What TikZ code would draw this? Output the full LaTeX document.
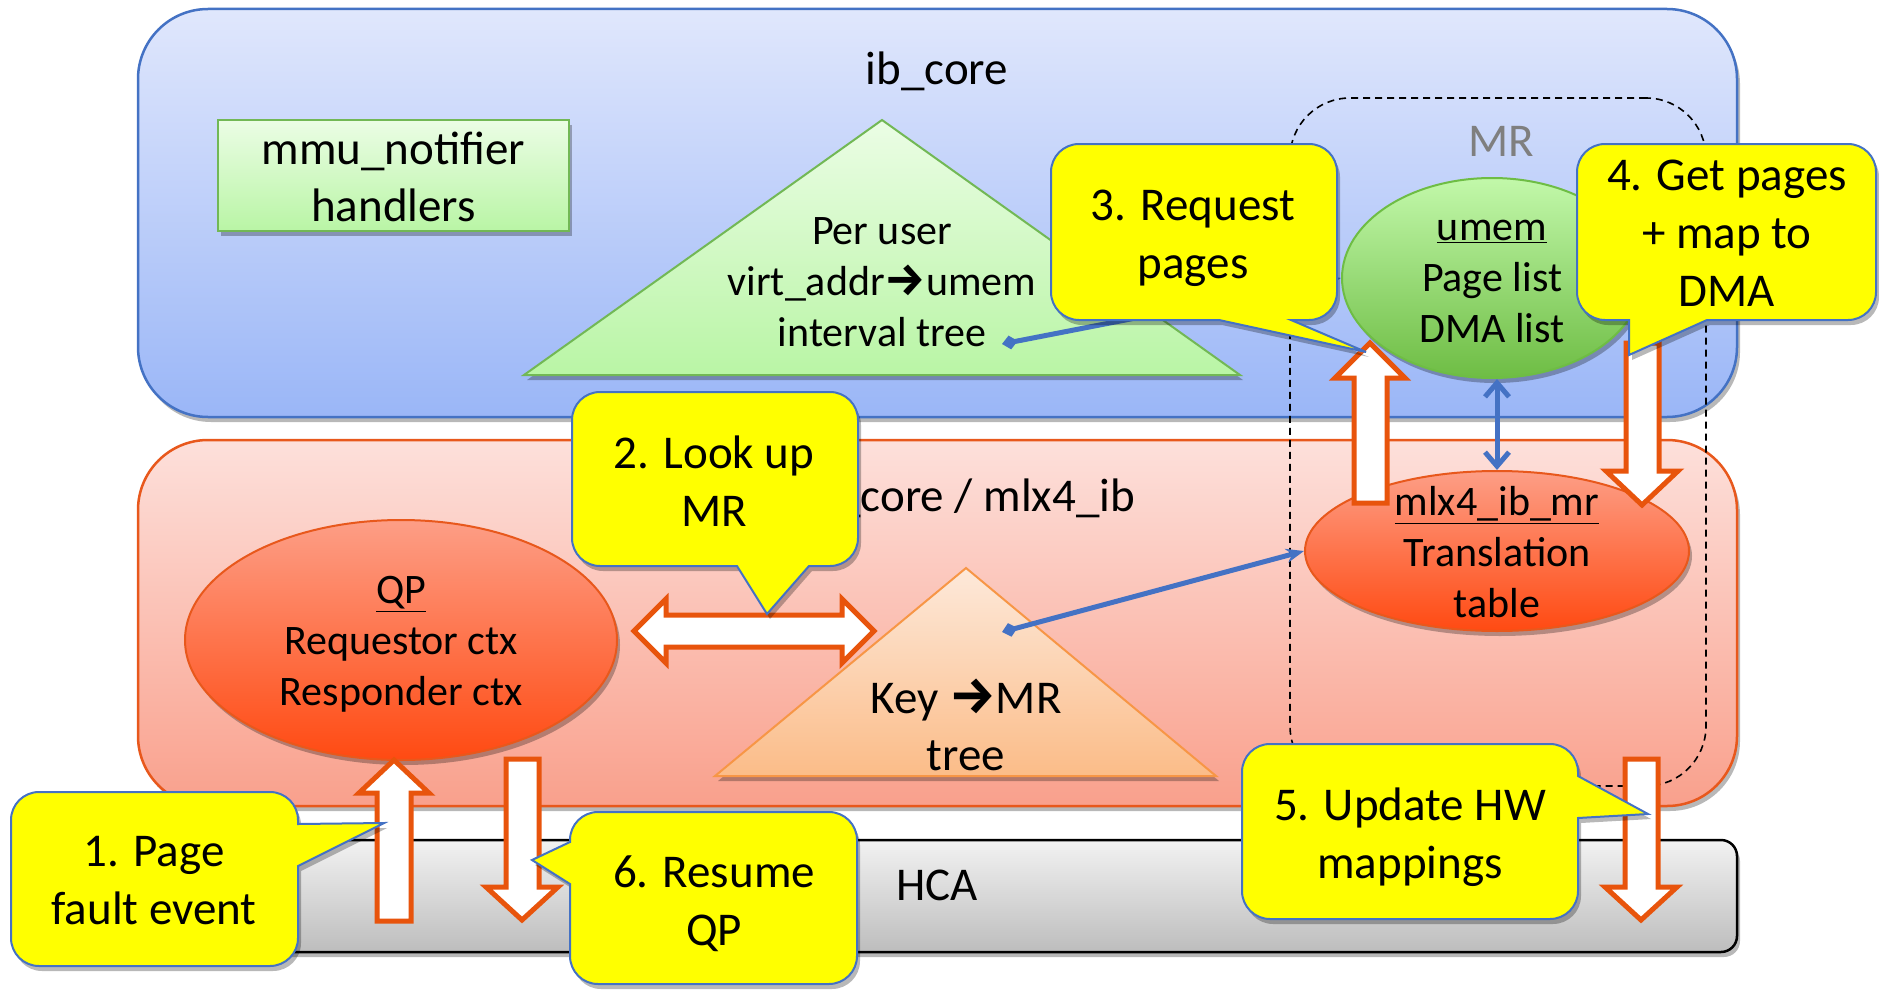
\documentclass[tikz,border=0pt]{standalone}
\usepackage{fontspec}
\setmainfont{Carlito}
\newfontfamily\arrowfont{Fira Sans}
\usetikzlibrary{shapes.geometric,shadows,arrows.meta}
\definecolor{blueTop}{HTML}{E0E7FC}
\definecolor{blueBot}{HTML}{9AB6F7}
\definecolor{boxblue}{HTML}{4472C4}
\definecolor{redTop}{HTML}{FDE0DB}
\definecolor{redBot}{HTML}{F9A08C}
\definecolor{boxred}{HTML}{E8581C}
\definecolor{grayTop}{HTML}{F2F2F2}
\definecolor{grayBot}{HTML}{BDBDBD}
\definecolor{greenTop}{HTML}{EBFDE5}
\definecolor{greenBot}{HTML}{B9F5A5}
\definecolor{greenBorder}{HTML}{72B855}
\definecolor{umemTop}{HTML}{C2F8AA}
\definecolor{umemBot}{HTML}{6EBD44}
\definecolor{ellTop}{HTML}{FD9E86}
\definecolor{ellBot}{HTML}{FF4A12}
\definecolor{keyTop}{HTML}{FDE9DA}
\definecolor{keyBot}{HTML}{FBBC88}
\definecolor{keyBorder}{HTML}{F79646}
\definecolor{callY}{HTML}{FFFF00}
\definecolor{arrowOr}{HTML}{E8540C}
\definecolor{mrgray}{HTML}{7F7F7F}
\newcommand{\callpath}[7]{(#1+28,#2) -- (#3-28,#2) arc(-90:0:28) #5 -- (#3,#4-28) arc(0:90:28) #6 -- (#1+28,#4) arc(90:180:28) #7 -- (#1,#2+28) arc(180:270:28) -- cycle}
\newcommand{\rarr}[1]{{\arrowfont\bfseries\fontsize{#1}{#1}\selectfont →}}
\tikzset{
  fsbig/.style={font=\fontsize{47}{57}\selectfont},
  fssmall/.style={font=\fontsize{42}{51}\selectfont},
  fscall/.style={font=\fontsize{47}{58}\selectfont},
  lbl/.style={align=center,inner sep=0pt,execute at begin node=\strut,execute at end node=\strut},
  shad/.style={drop shadow={shadow xshift=3pt,shadow yshift=-5pt,opacity=0.28,fill=black}},
  callout/.style={fill=callY,draw=boxblue,line width=2pt,shad},
  blockarrow/.style={fill=white,draw=arrowOr,line width=5pt,line join=miter,miter limit=20},
  conn/.style={draw=boxblue,line width=5pt},
}
\begin{document}
\begin{tikzpicture}[x=1pt,y=-1pt]
\useasboundingbox (0,0) rectangle (1879,990);
% layer boxes
\node[draw=boxblue,line width=2.5pt,rounded corners=70pt,top color=blueTop,bottom color=blueBot,minimum width=1599pt,minimum height=408pt,inner sep=0pt,shad] (ibbox) at (937.5,213) {};
\node[draw=boxred,line width=2.5pt,rounded corners=70pt,top color=redTop,bottom color=redBot,minimum width=1599pt,minimum height=366pt,inner sep=0pt,shad] (mlxbox) at (937.5,623) {};
\node[draw=black,line width=2.5pt,rounded corners=16pt,top color=grayTop,bottom color=grayBot,minimum width=1599pt,minimum height=112pt,inner sep=0pt,shad] (hcabox) at (937.5,896) {};
\node[fsbig,lbl] (ibtxt) at (937,73) {ib\_core};
\node[fsbig,lbl] (mlxtxt) at (940,500) {mlx4\_core / mlx4\_ib};
\node[fsbig,lbl] (hcatxt) at (937,889) {HCA};
% MR region
\node[draw=black,dashed,dash pattern=on 7pt off 5pt,line width=1.6pt,rounded corners=60pt,minimum width=416pt,minimum height=688pt,inner sep=0pt] (mr) at (1498,442) {};
\node[fsbig,lbl,text=mrgray] (mrtxt) at (1501,145) {MR};
% mmu notifier
\node[draw=greenBorder,line width=2pt,top color=greenTop,bottom color=greenBot,minimum width=351pt,minimum height=111pt,inner sep=0pt,shad] (mmu) at (393.5,175.5) {};
\node[fsbig,lbl] (mmutxt) at (393.5,185) {mmu\_notifier\\handlers};
% interval tree triangle
\path[draw=greenBorder,line width=2pt,top color=greenTop,bottom color=greenBot,shad] (882,120) -- (1240,375) -- (524,375) -- cycle;
\node[fssmall,lbl] (ivt) at (882,290) {Per user\\virt\_addr\rarr{46}umem\\interval tree};
% key tree triangle
\path[draw=keyBorder,line width=2pt,top color=keyTop,bottom color=keyBot,shad] (966,568) -- (1216,776) -- (715,776) -- cycle;
\node[fsbig,lbl] (keytree) at (966,733) {Key \rarr{52}MR\\tree};
% ellipses
\node[ellipse,draw=umemBot,line width=2pt,top color=umemTop,bottom color=umemBot,minimum width=300pt,minimum height=200pt,inner sep=0pt,shad] (umem) at (1492,278) {};
\node[fssmall,lbl] (umemtxt) at (1492,289) {\underline{umem}\\Page list\\DMA list};
\node[ellipse,draw=boxred,line width=2pt,top color=ellTop,bottom color=ellBot,minimum width=432pt,minimum height=240pt,inner sep=0pt,shad] (qp) at (401,640) {};
\node[fssmall,lbl] (qptxt) at (401,649) {\underline{QP}\\Requestor ctx\\Responder ctx};
\node[ellipse,draw=boxred,line width=2pt,top color=ellTop,bottom color=ellBot,minimum width=384pt,minimum height=160pt,inner sep=0pt,shad] (mlx) at (1497,551) {};
\node[fssmall,lbl] (mlxtxt2) at (1497,560) {\underline{mlx4\_ib\_mr}\\Translation\\table};
% blue connectors
\coordinate (ivtpt) at (1002,344);
\coordinate (keypt) at (1002,632);
\draw[conn,{Diamond[length=16pt,width=14pt]}-{Stealth[length=18pt,width=14pt]}] (ivtpt) -- (umem.west);
\draw[conn,{Diamond[length=16pt,width=14pt]}-{Stealth[length=18pt,width=14pt]}] (keypt) -- (mlx.west);
\draw[conn,{Straight Barb[length=14pt,width=24pt]}-{Straight Barb[length=14pt,width=24pt]}] (mlx.north |- umem.south) -- (mlx.north);
% block arrows
\path[blockarrow] (377,921) -- (377,793) -- (359,793) -- (394,760) -- (429,793) -- (411,793) -- (411,921) -- cycle;
\path[blockarrow] (506,759) -- (539,759) -- (539,887) -- (558,887) -- (522,920) -- (486,887) -- (506,887) -- cycle;
\path[blockarrow] (1354,503) -- (1354,378) -- (1335,378) -- (1370,343) -- (1405,378) -- (1387,378) -- (1387,503) -- cycle;
\path[blockarrow] (1626,343) -- (1659,343) -- (1659,471) -- (1678,471) -- (1642,505) -- (1606,471) -- (1626,471) -- cycle;
\path[blockarrow] (1625,759) -- (1658,759) -- (1658,887) -- (1677,887) -- (1641,920) -- (1605,887) -- (1625,887) -- cycle;
\path[blockarrow] (634,631) -- (666,599) -- (666,615) -- (842,615) -- (842,599) -- (874,631) -- (842,663) -- (842,647) -- (666,647) -- (666,663) -- cycle;
% callouts
\path[callout] \callpath{11}{792}{298}{966}{-- (298,824) -- (384,823) -- (298,866)}{}{};
\node[fscall,lbl] (c1) at (154,889) {1. Page\\fault event};
\path[callout] \callpath{572}{392}{858}{566}{}{-- (809,566) -- (767,614) -- (737,566)}{};
\node[fscall,lbl] (c2) at (714,490) {2. Look up\\MR};
\path[callout] \callpath{1051}{144}{1337}{320}{}{-- (1291,320) -- (1366,352) -- (1219,320)}{};
\node[fscall,lbl] (c3) at (1193,243) {3. Request\\pages};
\path[callout] \callpath{1577}{144}{1876}{320}{}{-- (1707,320) -- (1629,355) -- (1629,320)}{};
\node[fscall,lbl] (c4) at (1727,242) {4. Get pages\\+ map to\\DMA};
\path[callout] \callpath{1242}{744}{1578}{919}{-- (1578,776) -- (1648,814) -- (1578,818)}{}{};
\node[fscall,lbl] (c5) at (1410,842) {5. Update HW\\mappings};
\path[callout] \callpath{570}{812}{857}{984}{}{}{-- (570,884) -- (532,860) -- (570,842)};
\node[fscall,lbl] (c6) at (714,909) {6. Resume\\QP};
\end{tikzpicture}
\end{document}
